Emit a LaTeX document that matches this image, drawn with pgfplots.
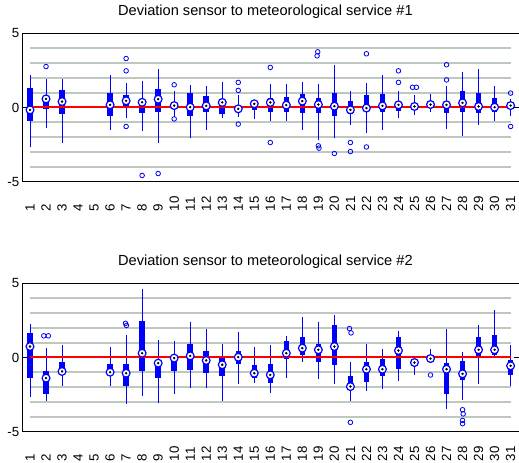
\documentclass[border=0pt]{standalone}
\usepackage{fontspec}
\setmainfont{Liberation Sans}
\usepackage{pgfplots}
\pgfplotsset{compat=1.18}
\usepackage{pgfplotstable}
\definecolor{gridc}{RGB}{190,200,190}

% x  median  q1  q3  lower-whisker  upper-whisker
\pgfplotstableread{
x med q1 q3 wlo whi
1 -0.16 -0.90 1.30 -2.67 2.20
2 0.58 -0.10 0.70 -1.39 1.90
3 0.40 -0.45 1.17 -2.36 1.90
6 0.18 -0.56 0.97 -1.55 2.20
7 0.45 0.00 0.85 -0.72 1.64
8 0.35 -0.38 0.30 -1.60 1.80
9 0.56 -0.31 1.26 -2.36 2.58
10 0.13 -0.10 0.35 -0.67 1.08
11 0.02 -0.60 0.97 -2.07 1.53
12 0.11 -0.27 0.79 -1.50 1.42
13 0.34 -0.43 0.52 -0.72 1.75
14 -0.09 -0.20 0.10 -0.65 0.85
15 0.25 -0.16 0.18 -0.79 0.50
16 0.34 -0.27 0.63 -0.88 1.60
17 0.16 -0.31 0.70 -0.88 1.60
18 0.43 -0.34 0.90 -1.50 1.75
19 0.20 -0.34 0.65 -2.20 1.60
20 0.09 -0.56 0.97 -2.07 2.88
21 -0.16 -0.43 0.47 -1.21 1.12
22 -0.04 -0.04 0.83 -1.73 1.64
23 0.11 -0.27 0.90 -1.50 2.20
24 0.18 -0.25 0.40 -0.72 1.08
25 0.07 -0.10 0.15 -0.49 0.85
26 0.20 -0.05 0.15 -0.27 0.92
27 0.18 -0.34 0.30 -1.46 1.42
28 0.31 -0.27 1.12 -1.91 2.38
29 0.07 -0.38 0.97 -1.17 2.58
30 0.02 -0.27 0.63 -0.88 1.42
31 0.13 -0.04 0.40 -0.56 0.60
}\topstats

\pgfplotstableread{
x y
2 2.76
7 3.30
7 2.47
7 -1.28
8 -4.58
9 -4.45
10 1.53
10 -0.77
14 1.69
14 1.15
14 -1.12
16 2.70
16 -2.36
18.96 3.75
18.92 3.48
19 -2.58
19.04 -2.74
20 -3.10
21 -2.36
21 -2.97
22 3.62
22 -2.66
24 2.47
24 1.69
24.88 1.36
25.12 1.36
27 2.88
27 1.86
31 0.97
31 -1.28
}\topout

\pgfplotstableread{
x med q1 q3 wlo whi
1 0.74 -1.39 1.64 -2.67 2.25
2 -1.39 -2.45 -0.88 -2.90 0.67
3 -0.94 -1.17 -0.31 -1.91 0.85
6 -0.99 -1.17 -0.45 -1.91 0.70
7 -1.06 -1.91 -0.45 -3.15 1.53
8 0.29 -0.88 2.49 -2.58 4.60
9 -0.38 -1.39 -0.16 -3.08 1.19
10 -0.04 -0.88 0.18 -2.47 1.08
11 0.11 -0.83 0.92 -2.07 2.36
12 -0.20 -1.06 0.45 -2.07 1.93
13 -0.49 -1.28 0.11 -2.90 0.90
14 0.02 -0.43 0.47 -1.78 1.69
15 -1.06 -1.39 -0.52 -1.73 0.70
16 -1.17 -1.73 -0.43 -2.36 0.85
17 0.29 -0.09 1.12 -1.35 1.48
18 0.63 0.18 1.35 -0.27 2.70
19 0.52 -0.31 0.92 -1.46 2.38
20 0.74 -0.49 2.20 -1.78 2.88
21 -1.96 -2.15 -1.25 -2.90 -0.33
22 -0.79 -1.62 -0.31 -2.25 0.90
23 -0.79 -1.28 -0.11 -2.13 0.58
24 0.47 -0.79 1.35 -1.55 1.80
25 -0.34 -0.45 -0.25 -1.17 -0.10
26 -0.07 -0.20 0.05 -0.40 0.58
27 -0.79 -2.45 -0.38 -3.48 1.93
28 -1.10 -1.51 -0.22 -2.85 0.40
29 0.52 0.11 1.37 -1.78 2.20
30 0.52 0.18 1.53 0.07 3.17
31 -0.56 -1.17 -0.16 -1.91 0.81
}\botstats

\pgfplotstableread{
x y
1.86 1.46
2.14 1.46
6.96 2.30
7.02 2.16
20.94 1.95
21.04 1.66
21 -4.37
26 -1.18
28 -3.52
28.04 -3.80
28 -4.24
28 -4.46
}\botout

\pgfplotsset{
  bxstyle/.style={
    scale only axis, width=497.3bp, height=148.4bp,
    xmin=0.544, xmax=31.587, ymin=-5, ymax=5,
    ytick={-5,0,5}, yticklabels={-5,0,5},
    xtick={1,...,31},
    /pgf/number format/assume math mode=true,
    xtick style={draw=none},
    tick align=inside, major tick length=6bp,
    ytick style={black, line width=0.7bp},
    tick label style={font=\fontsize{13.3bp}{15bp}\selectfont},
    xticklabel style={rotate=90, anchor=west},
    xticklabel shift=33bp,
    title style={font=\fontsize{14.6bp}{17bp}\selectfont,
      at={(axis description cs:0.488,1)}, anchor=base, yshift=11.6bp},
    axis line style={line width=0.8bp},
    unbounded coords=jump,
  },
  whisk/.style={draw=none, mark=none, forget plot,
    error bars/.cd, y dir=plus, y explicit, error mark=none,
    error bar style={draw=blue, line width=1bp}},
  boxx/.style={draw=none, mark=none, forget plot,
    error bars/.cd, y dir=plus, y explicit, error mark=none,
    error bar style={draw=blue, line width=5.5bp}},
  medc/.style={only marks, mark=*, mark size=3.9bp,
    mark options={draw=blue, fill=white, line width=1.2bp}},
  medd/.style={only marks, mark=*, mark size=1bp, black},
  outl/.style={only marks, mark=o, mark size=2.3bp, blue,
    mark options={line width=0.8bp}},
  gl/.style={gridc, line width=1.8bp, forget plot},
}

\begin{document}
\begin{tikzpicture}
\begin{axis}[bxstyle, at={(22.7bp,281.3bp)}, anchor=south west,
  title={Deviation sensor to meteorological service \#1}]
\addplot[gl] coordinates {(1,4) (31,4)};
\addplot[gl] coordinates {(1,3) (31,3)};
\addplot[gl] coordinates {(1,2) (31,2)};
\addplot[gl] coordinates {(1,1) (31,1)};
\addplot[gl] coordinates {(1,-1) (31,-1)};
\addplot[gl] coordinates {(1,-2) (31,-2)};
\addplot[gl] coordinates {(1,-3) (31,-3)};
\addplot[gl] coordinates {(1,-4) (31,-4)};
\addplot[whisk] table[x=x, y=wlo, y error plus expr=\thisrow{whi}-\thisrow{wlo}] {\topstats};
\addplot[boxx] table[x=x, y=q1, y error plus expr=\thisrow{q3}-\thisrow{q1}] {\topstats};
\addplot[red, line width=2bp] coordinates {(1,0) (31,0)};
\addplot[medc] table[x=x, y=med] {\topstats};
\addplot[medd] table[x=x, y=med] {\topstats};
\addplot[outl] table[x=x, y=y] {\topout};
\end{axis}

\begin{axis}[bxstyle, at={(22.7bp,31.3bp)}, anchor=south west,
  title={Deviation sensor to meteorological service \#2}]
\addplot[gl] coordinates {(1,4) (31,4)};
\addplot[gl] coordinates {(1,3) (31,3)};
\addplot[gl] coordinates {(1,2) (31,2)};
\addplot[gl] coordinates {(1,1) (31,1)};
\addplot[gl] coordinates {(1,-1) (31,-1)};
\addplot[gl] coordinates {(1,-2) (31,-2)};
\addplot[gl] coordinates {(1,-3) (31,-3)};
\addplot[gl] coordinates {(1,-4) (31,-4)};
\addplot[whisk] table[x=x, y=wlo, y error plus expr=\thisrow{whi}-\thisrow{wlo}] {\botstats};
\addplot[boxx] table[x=x, y=q1, y error plus expr=\thisrow{q3}-\thisrow{q1}] {\botstats};
\addplot[red, line width=2bp] coordinates {(1,0) (31,0)};
\addplot[medc] table[x=x, y=med] {\botstats};
\addplot[medd] table[x=x, y=med] {\botstats};
\addplot[outl] table[x=x, y=y] {\botout};
\end{axis}
\pgfresetboundingbox
\useasboundingbox (0,0) rectangle (519bp,463bp);
\end{tikzpicture}
\end{document}
